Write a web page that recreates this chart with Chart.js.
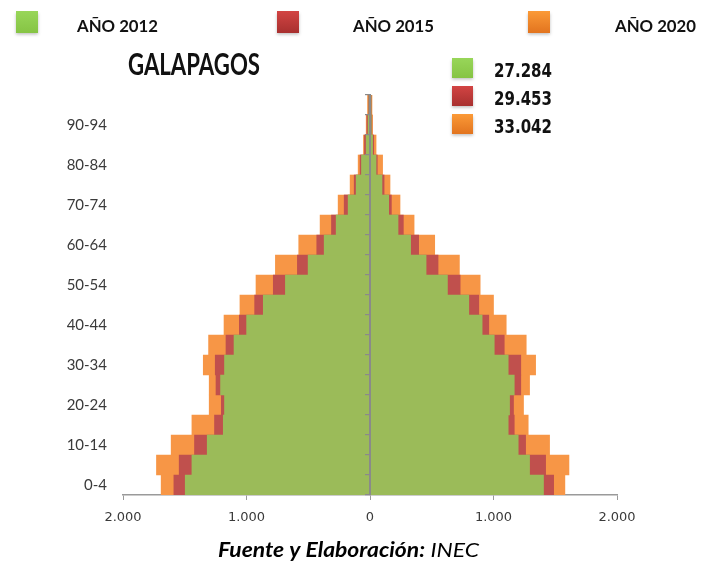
<!DOCTYPE html>
<html>
<head>
<meta charset="utf-8">
<script src="https://cdn.jsdelivr.net/npm/chart.js@4.4.1/dist/chart.umd.min.js"></script>
<style>
  html, body { margin: 0; padding: 0; background: #ffffff; }
  #wrap { width: 702px; height: 562px; position: relative; }
</style>
</head>
<body>
<div id="wrap"><canvas id="piramide" width="702" height="562"></canvas></div>
<script>
// Grupos de edad (de abajo hacia arriba)
const ages = ['0-4','5-9','10-14','15-19','20-24','25-29','30-34','35-39','40-44','45-49',
              '50-54','55-59','60-64','65-69','70-74','75-79','80-84','85-89','90-94','95-99'];

const years = ['AÑO 2012', 'AÑO 2015', 'AÑO 2020'];
const totals = [27284, 29453, 33042];

// Población por grupo de edad: lado izquierdo (hombres) y derecho (mujeres)
const hombres2012 = [1496,1442,1318,1188,1178,1210,1178,1101,999,864,685,501,371,274,177,112,69,31,15,8];
const mujeres2012 = [1405,1292,1200,1119,1130,1168,1119,1006,908,800,627,454,329,227,151,97,49,21,10,8];
const hombres2015 = [1588,1545,1421,1259,1204,1247,1253,1166,1058,934,783,588,431,312,209,128,80,45,25,12];
const mujeres2015 = [1487,1422,1260,1168,1162,1221,1221,1087,962,881,730,551,394,270,173,114,59,30,15,10];
const hombres2020 = [1691,1729,1610,1442,1302,1302,1350,1307,1182,1053,923,766,577,404,258,161,96,53,31,20];
const mujeres2020 = [1578,1611,1454,1281,1243,1292,1341,1265,1103,1000,892,724,524,357,243,162,102,49,21,16];

const axisLimit = 2000;
const axisStep = 1000;

const barColors = ['#9BBB59', '#C0504D', '#F79646'];
const legendColors = [['#98D659', '#86C444'], ['#D24443', '#A8302F'], ['#FB9A37', '#E2741F']];

const series = [
  { label: years[0], left: hombres2012, right: mujeres2012 },
  { label: years[1], left: hombres2015, right: mujeres2015 },
  { label: years[2], left: hombres2020, right: mujeres2020 }
];

// Dos barras por año (izquierda negativa, derecha positiva), superpuestas sin agrupar
const datasets = [];
series.forEach((s, i) => {
  const common = {
    label: s.label,
    backgroundColor: barColors[i],
    borderWidth: 0,
    grouped: false,
    barPercentage: 1,
    categoryPercentage: 1
  };
  datasets.push(Object.assign({ data: s.left.map(v => -v) }, common));
  datasets.push(Object.assign({ data: s.right.slice() }, common));
});

const fmtMiles = n => String(Math.abs(n)).replace(/\B(?=(\d{3})+(?!\d))/g, '.');

function fittedText(ctx, text, x, y, font, width, align) {
  ctx.font = font;
  const w = ctx.measureText(text).width;
  const k = width / w;
  ctx.save();
  ctx.translate(align === 'center' ? x - width / 2 : x, y);
  ctx.scale(k, 1);
  ctx.textAlign = 'left';
  ctx.fillText(text, 0, 0);
  ctx.restore();
}

function legendSquare(ctx, x, y, w, h, cols) {
  ctx.save();
  ctx.shadowColor = 'rgba(0,0,0,0.25)';
  ctx.shadowBlur = 3;
  ctx.shadowOffsetY = 1.5;
  const g = ctx.createLinearGradient(0, y, 0, y + h);
  g.addColorStop(0, cols[0]);
  g.addColorStop(1, cols[1]);
  ctx.fillStyle = g;
  ctx.fillRect(x, y, w, h);
  ctx.restore();
}

const encabezado = {
  id: 'encabezado',
  afterDraw(chart) {
    const ctx = chart.ctx;
    ctx.save();
    ctx.textBaseline = 'alphabetic';
    ctx.fillStyle = '#111111';

    // Leyenda superior
    const sqX = [16, 277, 528];
    const txX = [77, 353, 615];
    years.forEach((y, i) => {
      legendSquare(ctx, sqX[i], 11, 22, 22, legendColors[i]);
      ctx.fillStyle = '#111111';
      fittedText(ctx, y, txX[i], 32, 'bold 17px Lato', 81);
    });

    // Título
    fittedText(ctx, 'GALAPAGOS', 128, 75, 'bold 31px Lato', 132);

    // Totales por año
    totals.forEach((t, i) => {
      legendSquare(ctx, 452, 58 + i * 28, 21, 20, legendColors[i]);
      ctx.fillStyle = '#111111';
      fittedText(ctx, fmtMiles(t), 494, 77 + i * 28, 'bold 19px "DejaVu Sans"', 58);
    });

    // Fuente
    const a = 'Fuente y Elaboración:';
    const b = ' INEC';
    const fa = 'italic bold 20px Lato';
    const fb = 'italic 20px Lato';
    ctx.font = fa; const wa = ctx.measureText(a).width;
    ctx.font = fb; const wb = ctx.measureText(b).width;
    const k = 261 / (wa + wb);
    ctx.save();
    ctx.translate(218, 557);
    ctx.scale(k, 1);
    ctx.fillStyle = '#000000';
    ctx.font = fa; ctx.fillText(a, 0, 0);
    ctx.font = fb; ctx.fillText(b, wa, 0);
    ctx.restore();

    ctx.restore();
  }
};

new Chart(document.getElementById('piramide'), {
  type: 'bar',
  data: { labels: ages, datasets: datasets },
  options: {
    indexAxis: 'y',
    responsive: false,
    animation: false,
    layout: { padding: { left: 0, right: 85, top: 95, bottom: 37 } },
    plugins: {
      legend: { display: false },
      title: { display: false },
      tooltip: { enabled: false }
    },
    scales: {
      x: {
        min: -axisLimit,
        max: axisLimit,
        afterFit: s => { s.height = 30; },
        grid: { drawOnChartArea: false, drawTicks: true, tickLength: 5, color: '#9a9a9a' },
        border: { color: '#9a9a9a', width: 1.5 },
        ticks: {
          stepSize: axisStep,
          padding: 10,
          color: '#3a3a3a',
          font: { family: '"DejaVu Sans"', size: 13 },
          callback: v => fmtMiles(v)
        }
      },
      y: {
        type: 'category',
        reverse: true,
        offset: true,
        afterFit: s => { s.width = 123; },
        grid: { display: false, drawTicks: false },
        border: { display: false },
        ticks: {
          autoSkip: false,
          padding: 16,
          color: '#3a3a3a',
          font: { family: 'Lato', size: 15 },
          callback: (v, i) => (i % 2 === 0 ? ages[i] : '')
        }
      },
      eje: {
        type: 'category',
        axis: 'y',
        position: { x: 0 },
        reverse: true,
        offset: true,
        grid: { offset: true, drawOnChartArea: false, drawTicks: true, tickLength: 4, color: '#8a8a8a', lineWidth: 1.2, z: 1 },
        border: { color: '#8a8a8a', width: 2, z: 1 },
        ticks: { display: false }
      }
    }
  },
  plugins: [encabezado]
});
</script>
</body>
</html>
